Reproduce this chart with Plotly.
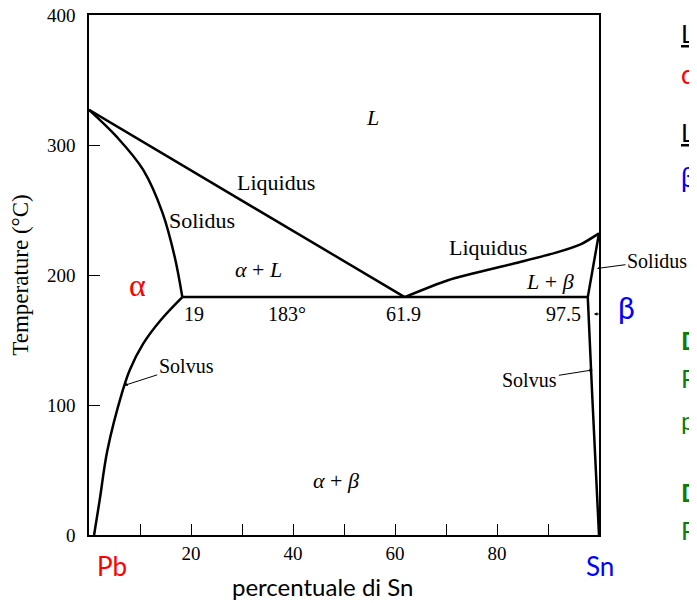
"""
Pb-Sn phase diagram (eutectic) redrawn with Plotly
"""

import plotly.graph_objects as go

# phase boundaries: composition (% Sn) and temperature (°C)
liquidus_left_x = [0, 61.9]
liquidus_left_t = [327, 183]

solidus_left_x = [0, 5.5, 10.6, 14.4, 16.8, 18.3]
solidus_left_t = [327, 306, 281, 248, 214, 183]

solvus_left_x = [18.3, 14.0, 10.6, 8.0, 6.6, 3.6, 2.1, 1.0]
solvus_left_t = [183, 165, 147, 127, 111, 65, 27, 0]

liquidus_right_x = [61.9, 70.4, 83.5, 91.4, 96.6, 100]
liquidus_right_t = [183, 196, 209, 217, 224, 232]

solidus_right_x = [100, 97.8]
solidus_right_t = [232, 183]

solvus_right_x = [97.8, 98.7, 100]
solvus_right_t = [183, 105, 0]

eutectic_x = [18.3, 97.8]
eutectic_t = [183, 183]

x_ticks = [10, 20, 30, 40, 50, 60, 70, 80, 90]
x_tick_labels = ['', '20', '', '40', '', '60', '', '80', '']
y_ticks = [0, 100, 200, 300, 400]

SERIF = 'Liberation Serif'
SANS = 'Lato'
GREEN = '#0a7d0a'

fig = go.Figure()

curves = [
    (liquidus_left_x, liquidus_left_t, 'linear', 0),
    (solidus_left_x, solidus_left_t, 'spline', 1.0),
    (solvus_left_x, solvus_left_t, 'spline', 1.0),
    (liquidus_right_x, liquidus_right_t, 'spline', 0.6),
    (solidus_right_x, solidus_right_t, 'linear', 0),
    (solvus_right_x, solvus_right_t, 'spline', 0.5),
    (eutectic_x, eutectic_t, 'linear', 0),
]
for cx, ct, shape, smooth in curves:
    line = dict(color='black', width=2.5, shape=shape)
    if shape == 'spline':
        line['smoothing'] = smooth
    fig.add_trace(go.Scatter(
        x=cx, y=ct, mode='lines', line=line,
        hoverinfo='skip', showlegend=False, cliponaxis=False
    ))

# labels inside the diagram
def label(x, y, text, size=22, color='black', font=SERIF, **kw):
    fig.add_annotation(x=x, y=y, text=text, showarrow=False,
                       font=dict(family=font, size=size, color=color), **kw)

label(55.5, 321, '<i>L</i>')
label(36.6, 271, 'Liquidus')
label(22.2, 242, 'Solidus')
label(33.3, 204, '<i>α</i> + <i>L</i>')
label(20.5, 170, '19', size=20)
label(38.9, 170, '183°', size=20)
label(61.7, 170, '61.9', size=20)
label(93.1, 170, '97.5', size=20)
label(78.3, 221, 'Liquidus')
label(90.3, 195, '<i>L</i> + <i>β</i>')
label(48.4, 42, '<i>α</i> + <i>β</i>')
label(9.6, 192, 'α', size=32, color='red')

# leader arrows
arrow = dict(showarrow=True, arrowhead=2, arrowsize=0.7, arrowwidth=1,
             arrowcolor='black', font=dict(family=SERIF, size=20, color='black'))
fig.add_annotation(x=6.9, y=115, ax=62, ay=-20, text='Solvus', **arrow)
fig.add_annotation(x=98.8, y=127, ax=-63, ay=10, text='Solvus', **arrow)
fig.add_annotation(x=99.6, y=205, ax=60, ay=-8, text='Solidus', **arrow)
fig.add_annotation(x=99.0, y=170, ax=9, ay=0, text=' ', **arrow)

# element names and slide text, placed in window pixels
PLOT_L, PLOT_W, PLOT_B, PLOT_H = 89, 510, 535, 520

def paper_label(px, py, text, size, color, xanchor='center', bold=False):
    if bold:
        text = '<b>' + text + '</b>'
    fig.add_annotation(xref='paper', yref='paper',
                       x=(px - PLOT_L) / PLOT_W, y=(PLOT_B - py) / PLOT_H,
                       text=text, showarrow=False,
                       xanchor=xanchor, yanchor='middle',
                       font=dict(family=SANS, size=size, color=color))

paper_label(112, 566, 'Pb', 26, 'red')
paper_label(600, 566, 'Sn', 26, 'blue')
paper_label(322, 586, 'percentuale di Sn', 24, 'black')
paper_label(626, 307, 'β', 30, 'blue')

# text cut off by the right edge of the slide
under = '<span style="text-decoration:underline">L</span>'
paper_label(679, 33, under, 25, 'black', 'left')
paper_label(679, 74, 'α', 26, 'red', 'left')
paper_label(679, 132, under, 25, 'black', 'left')
paper_label(679, 177, 'β', 26, 'blue', 'left')
paper_label(679, 340, 'D', 25, GREEN, 'left', bold=True)
paper_label(679, 378, 'P', 25, GREEN, 'left')
paper_label(679, 420, 'p', 25, GREEN, 'left')
paper_label(679, 492, 'D', 25, GREEN, 'left', bold=True)
paper_label(679, 530, 'P', 25, GREEN, 'left')

axis_style = dict(
    showgrid=False, zeroline=False, showline=True, mirror=True,
    linecolor='black', linewidth=1.5, ticks='inside', ticklen=11,
    tickcolor='black', tickwidth=1.3, automargin=False,
    ticklabeloverflow='allow',
    tickfont=dict(family=SERIF, size=19, color='black'),
)

# the page body adds 8 px around the figure, so the figure is made smaller
FIG_W, FIG_H = 689, 595
fig.update_layout(
    width=FIG_W, height=FIG_H,
    margin=dict(l=PLOT_L - 8, r=FIG_W - (PLOT_L - 8 + PLOT_W),
                t=7, b=FIG_H - (PLOT_B - 8)),
    plot_bgcolor='white', paper_bgcolor='white',
    showlegend=False,
    xaxis=dict(range=[0, 100], tickvals=x_ticks, ticktext=x_tick_labels,
               ticklabelstandoff=0, **axis_style),
    yaxis=dict(range=[0, 400], tickvals=y_ticks, ticklabelstandoff=8,
               title=dict(text='Temperature (°C)', standoff=28,
                          font=dict(family=SERIF, size=23, color='black')),
               **axis_style),
)

fig.write_html("out.html")
